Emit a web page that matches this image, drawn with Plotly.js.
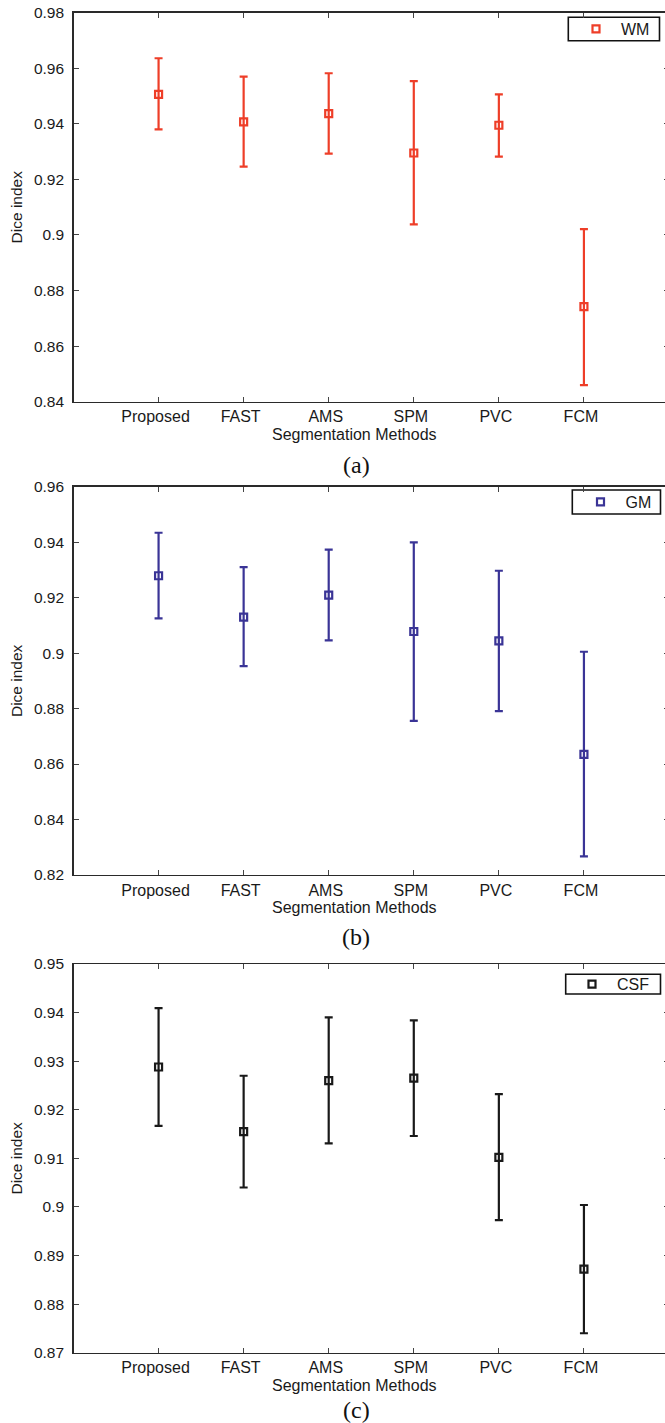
<!DOCTYPE html>
<html>
<head>
<meta charset="utf-8">
<script src="https://cdn.plot.ly/plotly-3.0.1.min.js"></script>
<style>
html,body{margin:0;padding:0;overflow:hidden;background:#fff;}
#chart{width:669px;height:1423px;}
</style>
</head>
<body>
<div id="chart"></div>
<script>
// Categories
const methods = ["Proposed", "FAST", "AMS", "SPM", "PVC", "FCM"];

// (a) WM
const wmMean  = [0.9506, 0.9407, 0.9437, 0.9295, 0.9395, 0.8742];
const wmUpper = [0.9636, 0.9570, 0.9582, 0.9554, 0.9506, 0.9021];
const wmLower = [0.9380, 0.9246, 0.9293, 0.9038, 0.9282, 0.8460];

// (b) GM
const gmMean  = [0.9279, 0.9130, 0.9209, 0.9078, 0.9044, 0.8635];
const gmUpper = [0.9434, 0.9310, 0.9373, 0.9399, 0.9297, 0.9005];
const gmLower = [0.9125, 0.8953, 0.9046, 0.8756, 0.8791, 0.8267];

// (c) CSF
const csfMean  = [0.9288, 0.9155, 0.9260, 0.9265, 0.9102, 0.8872];
const csfUpper = [0.9409, 0.9270, 0.9390, 0.9384, 0.9232, 0.9004];
const csfLower = [0.9167, 0.9040, 0.9131, 0.9146, 0.8973, 0.8740];

const seriesNames = ["WM", "GM", "CSF"];
const panelLabels = ["(a)", "(b)", "(c)"];
const yTitle = "Dice index";
const xTitle = "Segmentation Methods";

const colors = ["rgb(238,62,40)", "rgb(58,52,150)", "rgb(25,25,25)"];
const FONT = "'Liberation Sans', Arial, Helvetica, sans-serif";
const SERIF = "'Liberation Serif', 'Times New Roman', serif";

function makeTrace(mean, upper, lower, name, color, idx) {
  const suffix = idx === 0 ? "" : String(idx + 1);
  return {
    type: "scatter",
    mode: "markers",
    x: methods,
    y: mean,
    name: name,
    xaxis: "x" + suffix,
    yaxis: "y" + suffix,
    legend: "legend" + suffix,
    marker: {symbol: "square-open", size: 7, color: color, line: {color: color, width: 2.2}},
    error_y: {
      type: "data",
      symmetric: false,
      array: upper.map((u, i) => u - mean[i]),
      arrayminus: lower.map((l, i) => mean[i] - l),
      color: color,
      thickness: 2.2,
      width: 4
    },
    cliponaxis: false
  };
}

const data = [
  makeTrace(wmMean, wmUpper, wmLower, seriesNames[0], colors[0], 0),
  makeTrace(gmMean, gmUpper, gmLower, seriesNames[1], colors[1], 1),
  makeTrace(csfMean, csfUpper, csfLower, seriesNames[2], colors[2], 2)
];

const H = 1423, W = 669;
const plotLeft = 73.5;
const tops = [12.7, 486.7, 964];
const bottoms = [401.7, 875, 1352.7];
const yRanges = [[0.84, 0.98], [0.82, 0.96], [0.87, 0.95]];
const yDticks = [0.02, 0.02, 0.01];
const xTitleY = [434, 907.3, 1385];
const labelY = [465, 936.7, 1410];
// legend boxes [left, top, right, bottom] in px
const legBox = [[568.3, 17.3, 659.5, 40.7], [572.3, 490, 660.5, 514], [565.7, 974.3, 660.5, 994]];
const legMarkerX = [596, 600.5, 592];

const layout = {
  width: W, height: H,
  margin: {l: 0, r: 0, t: 0, b: 0, pad: 0},
  paper_bgcolor: "#fff", plot_bgcolor: "#fff",
  font: {family: FONT, size: 16, color: "#1a1a1a"},
  showlegend: true,
  annotations: [],
  shapes: []
};

for (let i = 0; i < 3; i++) {
  const s = i === 0 ? "" : String(i + 1);
  layout["xaxis" + s] = {
    type: "category",
    domain: [plotLeft / W, 1],
    range: [-1, 6],
    anchor: "y" + s,
    showline: true, linecolor: "#2a2a2a", linewidth: 1.3,
    mirror: "ticks",
    ticks: "inside", ticklen: 5, tickcolor: "#444", tickwidth: 1,
    showgrid: false, zeroline: false,
    tickfont: {family: FONT, size: 16, color: "#1a1a1a"},
    ticklabelshift: -3,
    automargin: false,
    fixedrange: true
  };
  layout["yaxis" + s] = {
    domain: [1 - bottoms[i] / H, 1 - tops[i] / H],
    range: yRanges[i],
    dtick: yDticks[i],
    tick0: yRanges[i][0],
    anchor: "x" + s,
    showline: true, linecolor: "#2a2a2a", linewidth: 1.3,
    mirror: "ticks",
    ticks: "inside", ticklen: 5, tickcolor: "#444", tickwidth: 1,
    showgrid: false, zeroline: false,
    tickfont: {family: FONT, size: 15.5, color: "#1a1a1a"},
    ticklabelstandoff: 5,
    title: {text: yTitle, font: {family: FONT, size: 15.5, color: "#1a1a1a"}, standoff: 7},
    automargin: false,
    fixedrange: true
  };
  const b = legBox[i];
  layout["legend" + s] = {
    x: (legMarkerX[i] - 25) / W, xanchor: "left",
    y: 1 - ((b[1] + b[3]) / 2) / H, yanchor: "middle",
    xref: "paper", yref: "paper",
    bgcolor: "rgba(0,0,0,0)", borderwidth: 0,
    font: {family: FONT, size: 16, color: "#1a1a1a"},
    itemwidth: 40,
    itemclick: false, itemdoubleclick: false
  };
  layout.shapes.push({
    type: "rect", xref: "paper", yref: "paper",
    x0: b[0] / W, x1: b[2] / W, y0: 1 - b[3] / H, y1: 1 - b[1] / H,
    line: {color: "#111", width: 1.6}, fillcolor: "#fff", layer: "below"
  });
  layout.annotations.push({
    text: xTitle, xref: "paper", yref: "paper",
    x: 354 / W, y: 1 - xTitleY[i] / H, xanchor: "center", yanchor: "middle",
    showarrow: false, font: {family: FONT, size: 16, color: "#1a1a1a"}
  });
  layout.annotations.push({
    text: panelLabels[i], xref: "paper", yref: "paper",
    x: 356 / W, y: 1 - labelY[i] / H, xanchor: "center", yanchor: "middle",
    showarrow: false, font: {family: SERIF, size: 24, color: "#111"}
  });
}

Plotly.newPlot("chart", data, layout, {displayModeBar: false, staticPlot: true});
</script>
</body>
</html>
